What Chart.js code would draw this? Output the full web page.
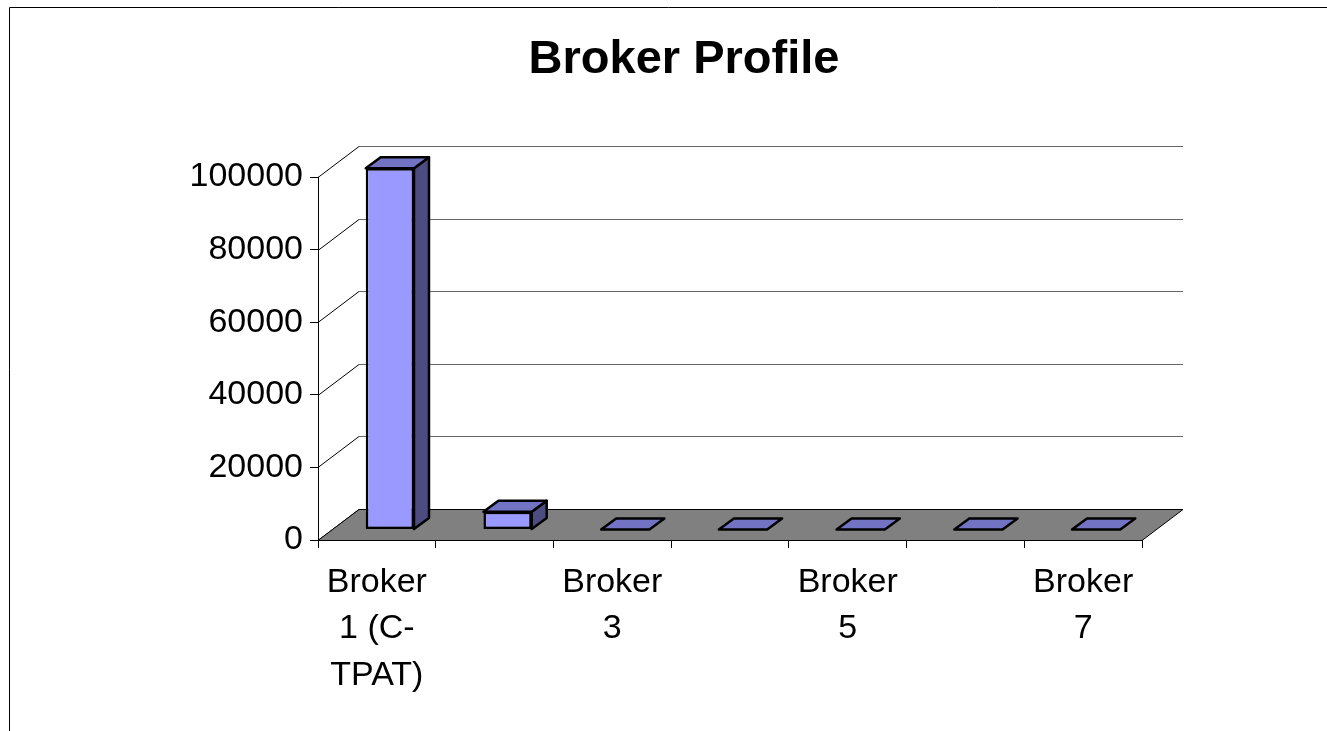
<!DOCTYPE html>
<html>
<head>
<meta charset="utf-8">
<script src="https://cdn.jsdelivr.net/npm/chart.js@4/dist/chart.umd.min.js"></script>
<style>
  html, body { margin: 0; padding: 0; background: #fff; }
  #wrap { width: 1327px; height: 731px; }
</style>
</head>
<body>
<div id="wrap"><canvas id="chart" width="1327" height="731"></canvas></div>
<script>
// valores
const brokers = ['Broker 1 (C-TPAT)', 'Broker 2', 'Broker 3', 'Broker 4', 'Broker 5', 'Broker 6', 'Broker 7'];
const profileValues = [99500, 4900, 0, 0, 0, 0, 0];
const xTickLabels = [['Broker', '1 (C-', 'TPAT)'], '', ['Broker', '3'], '', ['Broker', '5'], '', ['Broker', '7']];
const yTicks = [0, 20000, 40000, 60000, 80000, 100000];

const FONT = "'Liberation Sans', Arial, sans-serif";
Chart.defaults.font.family = FONT;
Chart.defaults.color = '#000';

// profundidade do "3D"
const floorDepth = { x: 41, y: -31 };
const barFront = { x: 13, y: -10.5 };
const barDepth = { x: 15, y: -11 };

const fake3d = {
    id: 'fake3d',
    beforeDraw(chart) {
        const ctx = chart.ctx;
        ctx.save();
        ctx.fillStyle = '#fff';
        ctx.fillRect(0, 0, chart.width, chart.height);
        // moldura (so esquerda e topo visiveis)
        ctx.strokeStyle = '#000';
        ctx.lineWidth = 1;
        ctx.beginPath();
        ctx.moveTo(9.5, chart.height);
        ctx.lineTo(9.5, 7.5);
        ctx.lineTo(chart.width, 7.5);
        ctx.stroke();
        ctx.restore();
    },
    beforeDatasetsDraw(chart) {
        const ctx = chart.ctx;
        const { left, right, bottom } = chart.chartArea;
        const ys = chart.scales.y;
        ctx.save();
        // linhas da parede do fundo + diagonais da parede lateral
        yTicks.forEach(v => {
            const py = Math.round(ys.getPixelForValue(v)) + 0.5;
            if (v > 0) {
                ctx.strokeStyle = '#666';
                ctx.lineWidth = 1;
                ctx.beginPath();
                ctx.moveTo(left + floorDepth.x, py + floorDepth.y);
                ctx.lineTo(right + floorDepth.x, py + floorDepth.y);
                ctx.stroke();
            }
            ctx.strokeStyle = '#000';
            ctx.beginPath();
            ctx.moveTo(left, py);
            ctx.lineTo(left + floorDepth.x, py + floorDepth.y);
            ctx.stroke();
        });
        // piso
        const fy = Math.round(bottom) + 0.5;
        ctx.fillStyle = '#808080';
        ctx.strokeStyle = '#000';
        ctx.lineWidth = 1;
        ctx.beginPath();
        ctx.moveTo(left, fy);
        ctx.lineTo(left + floorDepth.x, fy + floorDepth.y);
        ctx.lineTo(right + floorDepth.x, fy + floorDepth.y);
        ctx.lineTo(right, fy);
        ctx.closePath();
        ctx.fill();
        ctx.stroke();
        ctx.restore();

        // face frontal das barras desenhada pelo Chart.js, deslocada para dentro
        ctx.save();
        ctx.translate(barFront.x, barFront.y);
    },
    afterDatasetsDraw(chart) {
        const ctx = chart.ctx;
        const meta = chart.getDatasetMeta(0);
        ctx.lineWidth = 2.5;
        ctx.lineJoin = 'round';
        ctx.strokeStyle = '#000';
        meta.data.forEach(bar => {
            const { x, y, base, width } = bar.getProps(['x', 'y', 'base', 'width'], true);
            const l = x - width / 2, r = x + width / 2;
            // lado
            if (base - y > 0.5) {
                ctx.fillStyle = '#4C4C80';
                ctx.beginPath();
                ctx.moveTo(r, y);
                ctx.lineTo(r + barDepth.x, y + barDepth.y);
                ctx.lineTo(r + barDepth.x, base + barDepth.y);
                ctx.lineTo(r, base);
                ctx.closePath();
                ctx.fill();
                ctx.stroke();
            }
            // topo
            ctx.fillStyle = '#7373C4';
            ctx.beginPath();
            ctx.moveTo(l, y);
            ctx.lineTo(l + barDepth.x, y + barDepth.y);
            ctx.lineTo(r + barDepth.x, y + barDepth.y);
            ctx.lineTo(r, y);
            ctx.closePath();
            ctx.fill();
            ctx.stroke();
        });
        ctx.restore();
    },
    afterDraw(chart) {
        const ctx = chart.ctx;
        ctx.save();
        ctx.fillStyle = '#000';
        ctx.font = 'bold 47px ' + FONT;
        ctx.textAlign = 'center';
        ctx.textBaseline = 'middle';
        ctx.fillText('Broker Profile', 684, 60);
        ctx.restore();
    }
};

const ctx = document.getElementById('chart').getContext('2d');
const myChart = new Chart(ctx, {
    type: 'bar',
    data: {
        labels: brokers,
        datasets: [{
            data: profileValues,
            backgroundColor: '#9999FF',
            borderColor: '#000',
            borderWidth: 2.5,
            borderSkipped: false,
            categoryPercentage: 1,
            barPercentage: 0.41,
            clip: false
        }]
    },
    options: {
        responsive: false,
        animation: false,
        devicePixelRatio: 1,
        layout: { padding: { top: 177, right: 185, bottom: 0, left: 0 } },
        plugins: {
            legend: { display: false },
            title: { display: false },
            tooltip: { enabled: false }
        },
        scales: {
            x: {
                grid: { drawOnChartArea: false, drawTicks: true, tickLength: 8, color: '#000', offset: true },
                border: { display: true, color: '#000', width: 1 },
                ticks: {
                    autoSkip: false,
                    maxRotation: 0,
                    padding: 11,
                    font: { size: 34, lineHeight: 1.37 },
                    callback: (v, i) => xTickLabels[i]
                },
                afterFit(scale) { scale.height = 191; }
            },
            y: {
                min: 0,
                max: 100000,
                grid: { drawOnChartArea: false, drawTicks: true, tickLength: 8, color: '#000' },
                border: { display: true, color: '#000', width: 1 },
                ticks: {
                    stepSize: 20000,
                    padding: 7,
                    font: { size: 34 },
                    callback: v => String(v)
                },
                afterFit(scale) { scale.width = 318; }
            }
        }
    },
    plugins: [fake3d]
});
</script>
</body>
</html>
